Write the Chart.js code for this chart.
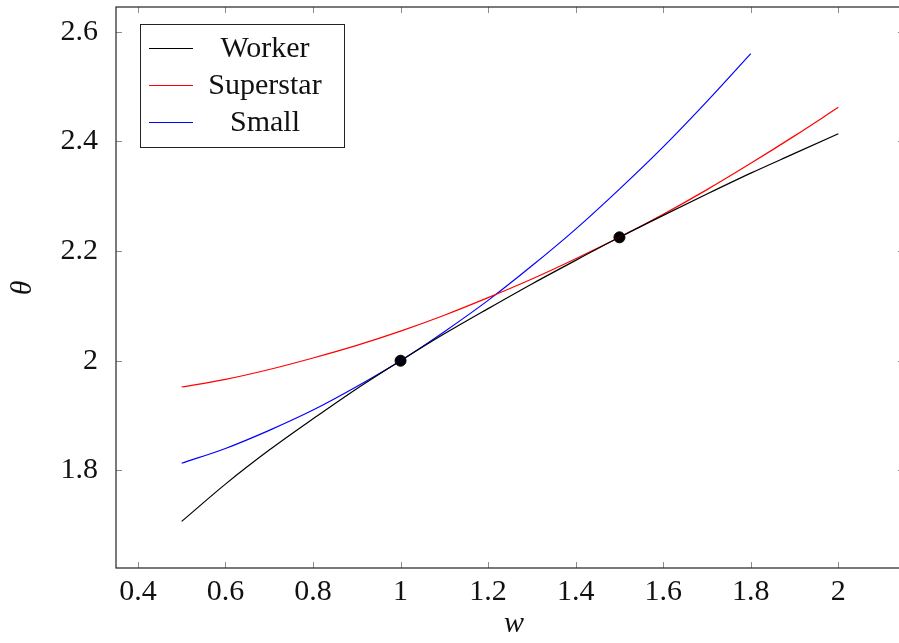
<!DOCTYPE html>
<html>
<head>
<meta charset="utf-8">
<script src="https://cdn.jsdelivr.net/npm/chart.js@4.4.0/dist/chart.umd.min.js"></script>
<style>
  html, body { margin: 0; padding: 0; background: #fff; overflow: hidden; }
  #wrap { width: 899px; height: 643px; overflow: hidden; }
  canvas { display: block; }
</style>
</head>
<body>
<!-- the original plot frame runs a few pixels past the right edge of the picture, so the canvas is a bit wider than the window -->
<div id="wrap"><canvas id="myChart" width="904" height="643"></canvas></div>
<script>
// values
let wValues = [0.5, 0.6, 0.7, 0.8, 0.9, 1.0, 1.1, 1.2, 1.3, 1.4, 1.5, 1.6, 1.7, 1.8, 1.9, 2.0];
let worker = [1.707, 1.775, 1.837, 1.894, 1.949, 2.0, 2.049, 2.095, 2.140, 2.183, 2.225, 2.265, 2.304, 2.342, 2.378, 2.414];
let superstar = [1.952, 1.966, 1.984, 2.005, 2.028, 2.054, 2.083, 2.115, 2.149, 2.186, 2.225, 2.267, 2.312, 2.360, 2.410, 2.462];
let small = [1.813, 1.840, 1.873, 1.910, 1.953, 2.0, 2.053, 2.110, 2.173, 2.240, 2.313, 2.390, 2.473, 2.560];
let dotsW = [1.0, 1.5];
let dotsTheta = [2.0, 2.225];
let xTicks = [0.4, 0.6, 0.8, 1.0, 1.2, 1.4, 1.6, 1.8, 2.0];
let yTicks = [1.8, 2.0, 2.2, 2.4, 2.6];

const FONT = "'Liberation Serif', 'Times New Roman', serif";

function pts(xs, ys) {
  return ys.map((y, i) => ({ x: xs[i], y: y }));
}

function fmt(v) {
  return Number(v.toFixed(1)).toString();
}

// frame, inward ticks, x labels, legend and axis titles like the pgfplots original
const decor = {
  id: 'decor',
  afterDraw(chart) {
    const ctx = chart.ctx;
    const a = chart.chartArea;
    const xs = chart.scales.x, ys = chart.scales.y;
    ctx.save();

    // inner ticks on all four sides
    ctx.strokeStyle = '#8c8c8c';
    ctx.lineWidth = 1;
    ctx.beginPath();
    xTicks.forEach(v => {
      const px = Math.round(xs.getPixelForValue(v)) + 0.5;
      ctx.moveTo(px, a.bottom); ctx.lineTo(px, a.bottom - 6);
      ctx.moveTo(px, a.top); ctx.lineTo(px, a.top + 6);
    });
    yTicks.forEach(v => {
      const py = Math.round(ys.getPixelForValue(v)) + 0.5;
      ctx.moveTo(a.left, py); ctx.lineTo(a.left + 6, py);
      ctx.moveTo(a.right, py); ctx.lineTo(a.right - 6, py);
    });
    ctx.stroke();

    // frame
    ctx.strokeStyle = '#222';
    ctx.lineWidth = 1.2;
    ctx.strokeRect(a.left, a.top, a.right - a.left - 0.6, a.bottom - a.top);

    // x tick labels
    ctx.font = '30px ' + FONT;
    ctx.fillStyle = '#111';
    ctx.textAlign = 'center';
    ctx.textBaseline = 'top';
    xTicks.forEach(v => {
      ctx.fillText(fmt(v), xs.getPixelForValue(v), a.bottom + 9);
    });

    // legend
    const lx = 140, ly = 24, lw = 204, lh = 123;
    ctx.fillStyle = '#fff';
    ctx.fillRect(lx, ly, lw, lh);
    ctx.strokeStyle = '#222';
    ctx.lineWidth = 1;
    ctx.strokeRect(lx + 0.5, ly + 0.5, lw, lh);
    ctx.textBaseline = 'middle';
    chart.data.datasets.slice(0, 3).forEach((ds, i) => {
      const cy = 48 + i * 37;
      ctx.strokeStyle = ds.borderColor;
      ctx.beginPath();
      ctx.moveTo(149, cy + 0.5); ctx.lineTo(193, cy + 0.5);
      ctx.stroke();
      ctx.fillStyle = '#111';
      ctx.fillText(ds.label, 265, cy + 1);
    });

    // axis titles
    ctx.font = 'italic 30px ' + FONT;
    ctx.fillStyle = '#111';
    ctx.fillText('w', 514, 624);
    ctx.translate(23, 288);
    ctx.rotate(-Math.PI / 2);
    ctx.fillText('θ', 0, 0);
    ctx.restore();
  }
};

let myChart = document.getElementById('myChart').getContext('2d');

let lineChart = new Chart(myChart, {
  type: 'scatter',
  data: {
    datasets: [{
      label: 'Worker',
      data: pts(wValues, worker),
      borderColor: '#000000',
      showLine: true
    }, {
      label: 'Superstar',
      data: pts(wValues, superstar),
      borderColor: '#ff0000',
      showLine: true
    }, {
      label: 'Small',
      data: pts(wValues, small),
      borderColor: '#0000ff',
      showLine: true
    }, {
      label: '',
      data: pts(dotsW, dotsTheta),
      backgroundColor: '#000000',
      borderColor: '#000000',
      pointRadius: 5.5,
      showLine: false
    }]
  },
  options: {
    responsive: false,
    animation: false,
    layout: { autoPadding: false, padding: { top: 7, right: 0, left: 0, bottom: 0 } },
    elements: {
      line: { borderWidth: 1.2, cubicInterpolationMode: 'monotone' },
      point: { radius: 0 }
    },
    plugins: {
      legend: { display: false },
      tooltip: { enabled: false }
    },
    scales: {
      x: {
        type: 'linear',
        min: 0.35,
        max: 2.15,
        afterBuildTicks: s => { s.ticks = xTicks.map(v => ({ value: v })); },
        afterFit: s => { s.height = 75; },
        grid: { display: false },
        border: { display: false },
        ticks: { display: false }
      },
      y: {
        type: 'linear',
        min: 1.622,
        max: 2.645,
        afterBuildTicks: s => { s.ticks = yTicks.map(v => ({ value: v })); },
        afterFit: s => { s.width = 116; s.paddingTop = 0; s.paddingBottom = 0; },
        grid: { display: false },
        border: { display: false },
        ticks: {
          padding: 10,
          color: '#111',
          font: { family: FONT, size: 30 },
          autoSkip: false,
          callback: v => fmt(v)
        }
      }
    }
  },
  plugins: [decor]
});
</script>
</body>
</html>
